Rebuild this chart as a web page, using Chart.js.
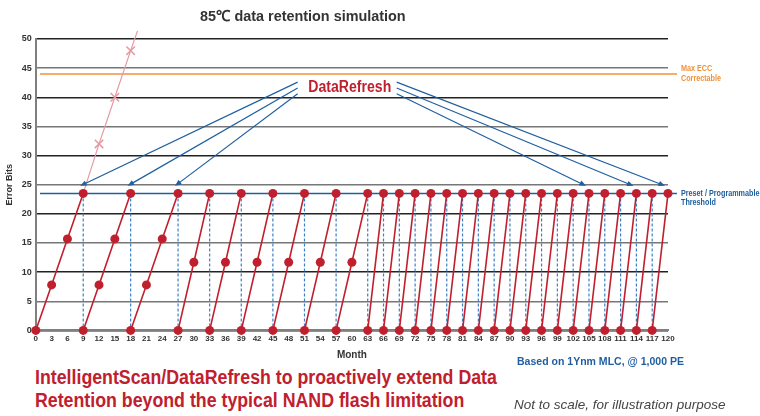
<!DOCTYPE html>
<html>
<head>
<meta charset="utf-8">
<script src="https://cdn.jsdelivr.net/npm/chart.js@4"></script>
<style>
  body { margin: 0; background: #fff; }
  #wrap { position: relative; width: 760px; height: 416px; overflow: hidden; font-family: 'Liberation Sans', Arial, sans-serif; }
  #box { position: absolute; left: 0; top: 0; width: 760px; height: 364px; }
  .txt { position: absolute; white-space: nowrap; font-weight: bold; transform-origin: 0 0; }
  #title { left: 200px; top: 5px; font-size: 15px; color: #333; transform: scaleX(0.96); }
  #based { left: 517px; top: 355px; font-size: 11.5px; color: #1f5fa0; transform: scaleX(0.915); }
  #claim { left: 35px; top: 366px; font-size: 20px; line-height: 23px; color: #c0202e; transform: scaleX(0.888); }
  #note { left: 514px; top: 397px; font-size: 13.5px; font-weight: normal; font-style: italic; color: #444; transform: scaleX(1.0); }
</style>
</head>
<body>
<div id="wrap">
  <div id="box"><canvas id="chart"></canvas></div>
  <div class="txt" id="title">85℃ data retention simulation</div>
  <div class="txt" id="based">Based on 1Ynm MLC, @ 1,000 PE</div>
  <div class="txt" id="claim">IntelligentScan/DataRefresh to proactively extend Data<br>Retention beyond the typical NAND flash limitation</div>
  <div class="txt" id="note">Not to scale, for illustration purpose</div>
</div>
<script>
const FONT = "'Liberation Sans', Arial, sans-serif";

// x axis tick labels (months)
const monthTicks = [0, 3, 6, 9, 12, 15, 18, 21, 24, 27, 30, 33, 36, 39, 42, 45, 48, 51, 54, 57, 60,
  63, 66, 69, 72, 75, 78, 81, 84, 87, 90, 93, 96, 99, 102, 105, 108, 111, 114, 117, 120];
const bitTicks = [0, 5, 10, 15, 20, 25, 30, 35, 40, 45, 50];

// error bits with DataRefresh (null = refresh gap)
const withRefresh = [
  [0, 0], [3, 7.8], [6, 15.7], [9, 23.5], null,
  [9, 0], [12, 7.8], [15, 15.7], [18, 23.5], null,
  [18, 0], [21, 7.8], [24, 15.7], [27, 23.5], null,
  [27, 0], [30, 11.7], [33, 23.5], null,
  [33, 0], [36, 11.7], [39, 23.5], null,
  [39, 0], [42, 11.7], [45, 23.5], null,
  [45, 0], [48, 11.7], [51, 23.5], null,
  [51, 0], [54, 11.7], [57, 23.5], null,
  [57, 0], [60, 11.7], [63, 23.5], null,
  [63, 0], [66, 23.5], null,
  [66, 0], [69, 23.5], null,
  [69, 0], [72, 23.5], null,
  [72, 0], [75, 23.5], null,
  [75, 0], [78, 23.5], null,
  [78, 0], [81, 23.5], null,
  [81, 0], [84, 23.5], null,
  [84, 0], [87, 23.5], null,
  [87, 0], [90, 23.5], null,
  [90, 0], [93, 23.5], null,
  [93, 0], [96, 23.5], null,
  [96, 0], [99, 23.5], null,
  [99, 0], [102, 23.5], null,
  [102, 0], [105, 23.5], null,
  [105, 0], [108, 23.5], null,
  [108, 0], [111, 23.5], null,
  [111, 0], [114, 23.5], null,
  [114, 0], [117, 23.5], null,
  [117, 0], [120, 23.5]
];

// error bits without refresh
const noRefresh = [[9, 23.5], [12, 32], [15, 40], [18, 48], [19.3, 51.4]];

// months where a refresh happens
const refreshMonths = [9, 18, 27, 33, 39, 45, 51, 57, 63, 66, 69, 72, 75, 78, 81, 84, 87, 90,
  93, 96, 99, 102, 105, 108, 111, 114, 117];

const threshold = 23.5;
const maxEcc = 44;
const refLineSpan = [0.8, 121.7];

// arrows from the DataRefresh label to refresh points
const arrowLeftFrom = [[49.7, 42.6], [49.7, 41.6], [49.7, 40.6]];
const arrowLeftTo = [9, 18, 27];
const arrowRightFrom = [[68.5, 42.6], [68.5, 41.6], [68.5, 40.6]];
const arrowRightTo = [120, 114, 105];
const arrowTipY = 24.8;
const labelPos = [59.6, 41.6];

const toPts = arr => {
  let lastX = 0;
  return arr.map(p => {
    if (p === null) return { x: lastX, y: null };
    lastX = p[0];
    return { x: p[0], y: p[1] };
  });
};

const dashedPts = [];
refreshMonths.forEach(m => {
  dashedPts.push({ x: m, y: threshold }, { x: m, y: 0 }, { x: m, y: null });
});

const RED = '#c0202e';
const BLUE = '#1f5fa0';
const ORANGE = '#f0923a';

// condensed canvas text
const narrowText = (ctx, text, x, y, sx) => {
  ctx.save();
  ctx.translate(x, y);
  ctx.scale(sx, 1);
  ctx.fillText(text, 0, 0);
  ctx.restore();
};

const annotations = {
  id: 'annotations',
  afterDatasetsDraw(chart) {
    const { ctx, chartArea } = chart;
    const xs = chart.scales.x, ys = chart.scales.y;
    ctx.save();

    const arrow = (from, toX) => {
      const x1 = xs.getPixelForValue(from[0]), y1 = ys.getPixelForValue(from[1]);
      const x2 = xs.getPixelForValue(toX) - 3, y2 = ys.getPixelForValue(arrowTipY);
      const ang = Math.atan2(y2 - y1, x2 - x1);
      ctx.strokeStyle = BLUE;
      ctx.fillStyle = BLUE;
      ctx.lineWidth = 1.2;
      ctx.beginPath();
      ctx.moveTo(x1, y1);
      ctx.lineTo(x2 - 5 * Math.cos(ang), y2 - 5 * Math.sin(ang));
      ctx.stroke();
      ctx.beginPath();
      ctx.moveTo(x2, y2);
      ctx.lineTo(x2 - 7 * Math.cos(ang - 0.4), y2 - 7 * Math.sin(ang - 0.4));
      ctx.lineTo(x2 - 7 * Math.cos(ang + 0.4), y2 - 7 * Math.sin(ang + 0.4));
      ctx.closePath();
      ctx.fill();
    };
    arrowLeftFrom.forEach((f, i) => arrow(f, arrowLeftTo[i]));
    arrowRightFrom.forEach((f, i) => arrow(f, arrowRightTo[i]));

    ctx.font = 'bold 16px ' + FONT;
    ctx.fillStyle = RED;
    ctx.textAlign = 'center';
    ctx.textBaseline = 'middle';
    narrowText(ctx, 'DataRefresh', xs.getPixelForValue(labelPos[0]), ys.getPixelForValue(labelPos[1]), 0.88);

    const lx = chartArea.right + 13;
    ctx.textAlign = 'left';
    ctx.font = 'bold 9px ' + FONT;
    ctx.fillStyle = ORANGE;
    const ye = ys.getPixelForValue(maxEcc);
    narrowText(ctx, 'Max ECC', lx, ye - 5, 0.8);
    narrowText(ctx, 'Correctable', lx, ye + 5, 0.8);
    ctx.fillStyle = BLUE;
    const yt = ys.getPixelForValue(threshold);
    narrowText(ctx, 'Preset / Programmable', lx, yt, 0.8);
    narrowText(ctx, 'Threshold', lx, yt + 9.5, 0.8);
    ctx.restore();
  }
};

new Chart(document.getElementById('chart'), {
  type: 'line',
  data: {
    datasets: [
      {
        label: 'With DataRefresh',
        data: toPts(withRefresh),
        borderColor: RED,
        backgroundColor: RED,
        borderWidth: 1.6,
        pointRadius: 4.5,
        pointBorderWidth: 0,
        spanGaps: false,
        clip: false,
        order: 1
      },
      {
        label: 'No refresh',
        data: toPts(noRefresh),
        borderColor: '#e59aa2',
        backgroundColor: '#e59aa2',
        borderWidth: 1.2,
        pointStyle: 'cross',
        rotation: 45,
        pointRadius: ctx => (ctx.dataIndex > 0 && ctx.dataIndex < 4 ? 6 : 0),
        pointBorderWidth: 1.5,
        clip: false,
        order: 2
      },
      {
        label: 'Refresh',
        data: dashedPts,
        borderColor: '#3d7fc4',
        borderWidth: 1.2,
        borderDash: [3, 2],
        pointRadius: 0,
        spanGaps: false,
        order: 4
      },
      {
        label: 'Threshold',
        data: [{ x: refLineSpan[0], y: threshold }, { x: refLineSpan[1], y: threshold }],
        borderColor: BLUE,
        borderWidth: 1.5,
        pointRadius: 0,
        clip: false,
        order: 3
      },
      {
        label: 'Max ECC',
        data: [{ x: refLineSpan[0], y: maxEcc }, { x: refLineSpan[1], y: maxEcc }],
        borderColor: ORANGE,
        borderWidth: 1.5,
        pointRadius: 0,
        clip: false,
        order: 3
      }
    ]
  },
  options: {
    responsive: true,
    maintainAspectRatio: false,
    animation: false,
    layout: { padding: { top: 39, right: 92, left: 4, bottom: 3 } },
    scales: {
      x: {
        type: 'linear',
        min: 0,
        max: 120,
        afterBuildTicks: axis => { axis.ticks = monthTicks.map(v => ({ value: v })); },
        ticks: {
          autoSkip: false,
          maxRotation: 0,
          padding: 4,
          color: '#333',
          font: { family: FONT, size: 8, weight: 'bold' }
        },
        grid: { display: false, drawTicks: false },
        border: { color: '#808080', width: 2 },
        title: {
          display: true,
          text: 'Month',
          color: '#333',
          padding: { top: 1, bottom: 0 },
          font: { family: FONT, size: 10, weight: 'bold' }
        }
      },
      y: {
        min: 0,
        max: 50,
        afterBuildTicks: axis => { axis.ticks = bitTicks.map(v => ({ value: v })); },
        ticks: {
          padding: 4,
          color: '#333',
          font: { family: FONT, size: 9, weight: 'bold' }
        },
        grid: {
          drawTicks: false,
          lineWidth: 1.5,
          color: ctx => (ctx.tick && ctx.tick.value % 10 === 0 ? '#222' : '#777')
        },
        border: { color: '#808080', width: 2 },
        title: {
          display: true,
          text: 'Error Bits',
          color: '#333',
          padding: { top: 0, bottom: 3 },
          font: { family: FONT, size: 9, weight: 'bold' }
        }
      }
    },
    plugins: {
      legend: { display: false },
      tooltip: { enabled: false }
    }
  },
  plugins: [annotations]
});
</script>
</body>
</html>
